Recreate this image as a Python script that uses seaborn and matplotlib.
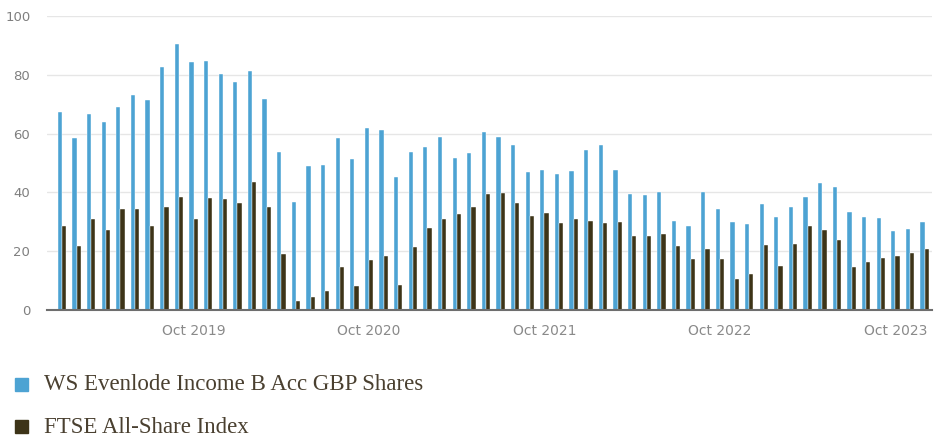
import numpy as np
import pandas as pd
import matplotlib
matplotlib.use("Agg")
import matplotlib.pyplot as plt
import seaborn as sns
from matplotlib.patches import Rectangle

# ---- data ----
months = pd.date_range("2019-01-01", periods=60, freq="MS").strftime("%b %Y").tolist()
fund_name = "WS Evenlode Income B Acc GBP Shares"
index_name = "FTSE All-Share Index"
fund = [67.5, 58.5, 66.7, 64.0, 69.0, 73.2, 71.4, 82.7, 90.5, 84.3,
        84.7, 80.3, 77.6, 81.4, 71.7, 53.7, 36.8, 49.1, 49.4, 58.5,
        51.4, 62.0, 61.2, 45.4, 53.7, 55.3, 58.9, 51.8, 53.4, 60.4,
        58.9, 56.1, 46.9, 47.7, 46.3, 47.4, 54.5, 56.1, 47.7, 39.5,
        39.0, 40.3, 30.4, 28.7, 40.3, 34.4, 30.0, 29.2, 36.0, 31.6,
        35.2, 38.3, 43.1, 41.9, 33.3, 31.6, 31.2, 26.8, 27.6, 30.0]
ftse = [28.7, 21.7, 30.8, 27.3, 34.3, 34.4, 28.7, 35.2, 38.3, 30.8,
        38.2, 37.6, 36.3, 43.4, 35.2, 18.9, 2.9, 4.5, 6.6, 14.7,
        8.1, 17.0, 18.2, 8.5, 21.3, 27.9, 31.1, 32.7, 35.2, 39.5,
        39.9, 36.3, 31.9, 33.1, 29.5, 31.1, 30.4, 29.5, 30.0, 25.2,
        25.2, 26.0, 21.6, 17.3, 20.9, 17.3, 10.7, 12.3, 22.1, 15.0,
        22.5, 28.7, 27.3, 23.8, 14.7, 16.2, 17.8, 18.2, 19.3, 20.6]
tick_labels = ["Oct 2019", "Oct 2020", "Oct 2021", "Oct 2022", "Oct 2023"]
y_ticks = [0, 20, 40, 60, 80, 100]

colors = {fund_name: "#4DA3D3", index_name: "#3D3418"}

df = pd.DataFrame({
    "month": months * 2,
    "value": fund + ftse,
    "series": [fund_name] * len(fund) + [index_name] * len(ftse),
})

sns.set_theme(style="white")
plt.rcParams["font.family"] = ["DejaVu Sans"]

fig = plt.figure(figsize=(9.34, 4.37), dpi=100)
ax = fig.add_axes([47 / 934, 1 - 310 / 437, (932 - 47) / 934, (310 - 16) / 437])

sns.barplot(data=df, x="month", y="value", hue="series", palette=colors,
            order=months, width=0.58, dodge=True, ax=ax, legend=False,
            saturation=1, edgecolor="white", linewidth=0.3)

ax.set_ylim(0, 100)
ax.set_xlim(-1.02, 59.5)
ax.set_yticks(y_ticks)
ax.set_yticklabels([str(v) for v in y_ticks], color="#7f7f7f", fontsize=9.5)
tick_pos = [months.index(t) for t in tick_labels]
ax.set_xticks(tick_pos)
ax.set_xticklabels(tick_labels, color="#8a8a8a", fontsize=10,
                   family=["DejaVu Sans"])
ax.tick_params(axis="x", length=0, pad=10)
ax.tick_params(axis="y", length=0, pad=12)
ax.set_xlabel("")
ax.set_ylabel("")
ax.grid(axis="y", color="#e6e6e6", linewidth=1)
ax.set_axisbelow(True)
for s in ["top", "right", "left"]:
    ax.spines[s].set_visible(False)
ax.spines["bottom"].set_color("#6e6e6e")
ax.spines["bottom"].set_linewidth(1.5)

# legend below
legend_items = [(fund_name, 384), (index_name, 426.5)]
for name, ypix in legend_items:
    fig.patches.append(Rectangle((15 / 934, 1 - (ypix + 6.5) / 437), 13 / 934, 13 / 437,
                                 transform=fig.transFigure, color=colors[name]))
    fig.text(44 / 934, 1 - (ypix + 1) / 437, name, va="center", ha="left",
             fontsize=16.5, color="#4a4030",
             family=["Liberation Serif", "DejaVu Serif"])

fig.savefig("out.png", dpi=100)
